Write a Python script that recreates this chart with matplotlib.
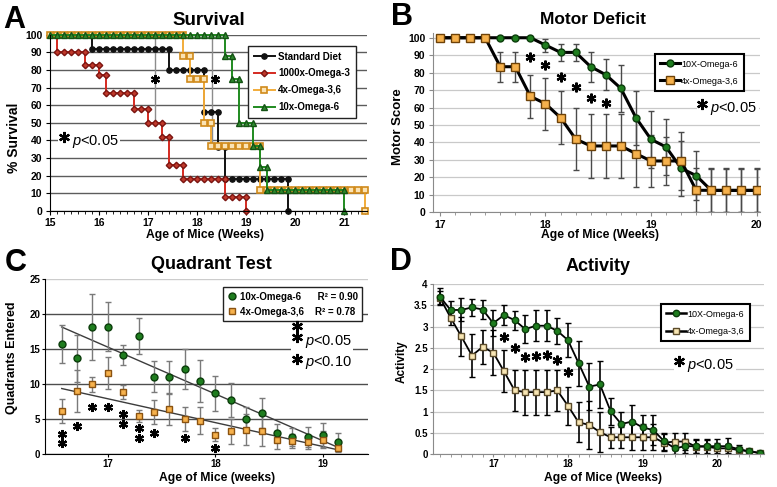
import matplotlib
matplotlib.use('Agg')
import matplotlib.pyplot as plt
import numpy as np
from matplotlib.ticker import MultipleLocator
from matplotlib.lines import Line2D

plt.rcParams['font.family'] = ['Liberation Sans', 'DejaVu Sans']
plt.rcParams['mathtext.fontset'] = 'custom'
plt.rcParams['mathtext.rm'] = 'Liberation Sans'
plt.rcParams['mathtext.it'] = 'Liberation Sans:italic'
plt.rcParams['mathtext.bf'] = 'Liberation Sans:bold'

W, H = 777, 487

# ---------------- A: survival (age in days, % alive)
std_day = [105, 106, 107, 108, 109, 110, 111,
           111, 112, 113, 114, 115, 116, 117, 118, 119, 120, 121, 122,
           122, 123, 124, 125, 126, 127,
           127, 128, 129,
           129, 130,
           130, 131, 132, 133, 134, 135, 136, 137, 138, 139,
           139]
std_surv = [100, 100, 100, 100, 100, 100, 100,
            92, 92, 92, 92, 92, 92, 92, 92, 92, 92, 92, 92,
            80, 80, 80, 80, 80, 80,
            56, 56, 56,
            36, 36,
            18, 18, 18, 18, 18, 18, 18, 18, 18, 18,
            0]

o3_day = [105, 106,
          106, 107, 108, 109, 110,
          110, 111, 112,
          112, 113,
          113, 114, 115, 116, 117,
          117, 118, 119,
          119, 120, 121,
          121, 122,
          122, 123, 124,
          124, 125, 126, 127, 128, 129, 130,
          130, 131, 132, 133,
          133]
o3_surv = [100, 100,
           90, 90, 90, 90, 90,
           83, 83, 83,
           77, 77,
           67, 67, 67, 67, 67,
           58, 58, 58,
           50, 50, 50,
           42, 42,
           26, 26, 26,
           18, 18, 18, 18, 18, 18, 18,
           8, 8, 8, 8,
           0]

o36_day = [105, 106, 107, 108, 109, 110, 111, 112, 113, 114, 115, 116, 117, 118,
           119, 120, 121, 122, 123, 124,
           124, 125,
           125, 126, 127,
           127, 128,
           128, 129, 130, 131, 132, 133, 134, 135,
           135, 136, 137, 138, 139, 140, 141, 142, 143, 144, 145, 146, 147, 148,
           149, 150,
           150]
o36_surv = [100, 100, 100, 100, 100, 100, 100, 100, 100, 100, 100, 100, 100, 100,
            100, 100, 100, 100, 100, 100,
            88, 88,
            75, 75, 75,
            50, 50,
            37, 37, 37, 37, 37, 37, 37, 37,
            12, 12, 12, 12, 12, 12, 12, 12, 12, 12, 12, 12, 12, 12,
            12, 12,
            0]

o6_day = [105, 106, 107, 108, 109, 110, 111, 112, 113, 114, 115, 116, 117, 118,
          119, 120, 121, 122, 123, 124, 125, 126, 127, 128, 129, 130,
          130, 131,
          131, 132,
          132, 133, 134,
          134, 135,
          135, 136,
          136, 137, 138, 139, 140, 141, 142, 143, 144, 145, 146, 147,
          147]
o6_surv = [100, 100, 100, 100, 100, 100, 100, 100, 100, 100, 100, 100, 100, 100,
           100, 100, 100, 100, 100, 100, 100, 100, 100, 100, 100, 100,
           88, 88,
           75, 75,
           50, 50, 50,
           37, 37,
           25, 25,
           12, 12, 12, 12, 12, 12, 12, 12, 12, 12, 12, 12,
           0]

a_sig_x = [17.13, 18.30]
a_sig_low = [50, 38]
a_star_x = [17.13, 18.36]
a_star_y = [75, 75]

# ---------------- B: motor score
b_day = list(range(119, 141))
b_o6 = [100, 100, 100, 100, 100, 100, 100, 95.8, 91.6, 91.6, 83.4, 78.8,
        71, 54.2, 41.8, 37.4, 25.2, 21, 12.5, 12.5, 12.5, 12.5]
b_o6_err = [0, 0, 0, 0, 0, 0, 0, 3.7, 5, 5, 8.7, 9,
            13.3, 15.5, 16.5, 16, 15.8, 14, 12.5, 12.5, 12.5, 12.5]
b_o36 = [100, 100, 100, 100, 83.4, 83.4, 66.4, 62.2, 54.2, 42, 38, 38,
         38, 33.6, 29.4, 29.4, 29.4, 12.6, 12.6, 12.6, 12.6, 12.6]
b_o36_err = [0, 0, 0, 0, 8.7, 8.7, 12.4, 15, 15.3, 17.7, 18.3, 18.3,
             18.3, 19, 15, 14, 16.5, 12.5, 12.5, 12.5, 12.5, 12.5]
b_star_day = [125, 126, 127, 128, 129, 130]
b_star_y = [89, 84.3, 77.6, 71.9, 65.3, 62.4]

# ---------------- C: quadrants entered
c_day = list(range(116, 135))
c_o6 = [15.8, 13.7, 18.2, 18.2, 14.2, 16.9, 11.1, 11.0, 12.2, 10.5,
        8.7, 7.8, 5.1, 5.9, 3.0, 2.5, 2.5, 2.8, 1.8]
c_o6_err = [2.7, 3.4, 4.7, 3.5, 1.4, 2.6, 2.2, 2.4, 2.8, 3.0,
            2.5, 2.4, 1.7, 2.1, 1.3, 1.3, 1.4, 1.7, 1.3]
c_o36 = [6.2, 9.0, 10.0, 11.6, 8.9, 5.5, 6.0, 6.5, 5.0, 4.8,
         2.8, 3.3, 3.5, 3.4, 2.1, 1.9, 1.7, 2.1, 0.9]
c_o36_err = [1.7, 3.0, 1.1, 2.3, 1.0, 0.9, 1.7, 2.3, 1.7, 1.9,
             0.9, 1.8, 2.2, 2.2, 1.3, 1.0, 1.0, 1.2, 0.6]
c_star_day = [116, 116, 117, 118, 119, 120, 120, 121, 121, 122, 124, 126]
c_star_y = [2.9, 1.6, 4.0, 6.7, 6.8, 5.7, 4.3, 3.7, 2.3, 3.0, 2.4, 0.9]

# ---------------- D: activity
d_day = list(range(114, 145))
d_o6 = [3.70, 3.39, 3.39, 3.45, 3.40, 3.08, 3.27, 3.15, 2.94, 3.02, 3.02,
        2.90, 2.68, 2.14, 1.59, 1.64, 1.01, 0.71, 0.77, 0.63, 0.57, 0.31,
        0.14, 0.19, 0.19, 0.19, 0.19, 0.19, 0.12, 0.07, 0.03]
d_o6_err = [0.2, 0.2, 0.27, 0.2, 0.22, 0.3, 0.23, 0.22, 0.33, 0.37, 0.37,
            0.31, 0.4, 0.53, 0.55, 0.55, 0.32, 0.28, 0.39, 0.3, 0.35, 0.2,
            0.14, 0.16, 0.17, 0.18, 0.18, 0.19, 0.1, 0.05, 0.03]
d_o36 = [3.68, 3.21, 2.77, 2.32, 2.52, 2.39, 1.95, 1.50, 1.46, 1.46, 1.46,
         1.50, 1.14, 0.75, 0.69, 0.52, 0.40, 0.40, 0.40, 0.40, 0.40, 0.27,
         0.30, 0.30, 0.18, 0.18, 0.14, 0.14, 0.10, 0.07, 0.03]
d_o36_err = [0.15, 0.17, 0.45, 0.5, 0.41, 0.53, 0.49, 0.49, 0.53, 0.53, 0.53,
             0.49, 0.45, 0.47, 0.57, 0.47, 0.25, 0.25, 0.3, 0.3, 0.3, 0.2,
             0.2, 0.2, 0.15, 0.15, 0.12, 0.1, 0.08, 0.05, 0.03]
d_star_day = [120, 121, 122, 123, 124, 125, 126]
d_star_y = [2.76, 2.49, 2.29, 2.31, 2.33, 2.21, 1.94]

GREEN = '#1e7d1e'
DKGREEN = '#0b3d0b'
ORANGE = '#f6b14c'
STAR = (6, 2, 0)


def wk(days):
    return np.array(days) / 7.0


def rect(l, t, r, b):
    return [l / W, 1 - b / H, (r - l) / W, (b - t) / H]


fig = plt.figure(figsize=(W / 100, H / 100), dpi=100)


def ftext(x, y, s, **kw):
    fig.text(x / W, 1 - y / H, s, **kw)


def style_axis(ax, spine_color, size, pad=2.5, length=3):
    for s in ['top', 'right']:
        ax.spines[s].set_visible(False)
    for s in ['left', 'bottom']:
        ax.spines[s].set_color(spine_color)
    ax.tick_params(labelsize=size, length=length, pad=pad, color=spine_color)
    ax.tick_params(which='minor', length=2, color=spine_color)
    for lbl in ax.get_xticklabels() + ax.get_yticklabels():
        lbl.set_fontweight('bold')
    ax.set_axisbelow(True)


def p_key(ax, x, y, s, dy):
    ax.text(x, y, '   $p$' + s, fontsize=10.5, va='center', ha='left', zorder=6,
            bbox=dict(facecolor='white', edgecolor='none', pad=1))
    ax.plot([x + 0.035 * (ax.get_xlim()[1] - ax.get_xlim()[0]) / 3], [y + dy], ls='none',
            marker=STAR, ms=8, mew=1.6, color='k', zorder=8)


# ---------- panel A
axA = fig.add_axes(rect(50, 34.8, 367, 210.7))
axA.set_xlim(15, 21.46)
axA.set_ylim(0, 100)
axA.set_yticks(range(0, 101, 10))
axA.set_xticks(range(15, 22))
axA.xaxis.set_minor_locator(MultipleLocator(1 / 7))
axA.yaxis.grid(True, color='#5c5c5c', lw=1.0)
style_axis(axA, 'black', 7.5)
axA.vlines(a_sig_x, a_sig_low, 100, color='#8c8c8c', lw=1.0)
axA.plot(a_star_x, a_star_y, ls='none', marker=STAR, ms=6.5, mew=1.5, color='k')
hA = []
hA += axA.plot(wk(std_day), std_surv, color='#111111', lw=1.4, marker='o', ms=3.8,
               mfc='#111111', mec='#111111', clip_on=False, label='Standard Diet')
hA += axA.plot(wk(o3_day), o3_surv, color='#d42a20', lw=1.4, marker='D', ms=3.3,
               mfc='#c0392b', mec='#7a1410', clip_on=False, label='1000x-Omega-3')
hA += axA.plot(wk(o36_day), o36_surv, color='#f2ac3a', lw=1.4, marker='s', ms=3.8,
               mfc='#fbe3b4', mec='#d08a1a', mew=1.2, clip_on=False, label='4x-Omega-3,6')
hA += axA.plot(wk(o6_day), o6_surv, color='#1f8a1f', lw=1.4, marker='^', ms=4.1,
               mfc='#2d8a2d', mec='#145214', clip_on=False, label='10x-Omega-6')
legA = axA.legend(handles=hA, loc='upper right', bbox_to_anchor=(0.98, 0.965),
                  prop={'weight': 'bold', 'size': 7}, fancybox=False, framealpha=1,
                  edgecolor='#222222', handlelength=2.2, borderpad=0.6,
                  labelspacing=0.7, handletextpad=0.3)
legA.get_frame().set_linewidth(1.0)
p_key(axA, 15.2, 39.5, '<0.05', 2.5)

# ---------- panel B
axB = fig.add_axes(rect(433, 32.5, 760, 212.3))
axB.set_xlim(16.934, 20.033)
axB.set_ylim(0, 103)
axB.set_yticks(range(0, 101, 10))
axB.set_xticks(range(17, 21))
axB.xaxis.set_minor_locator(MultipleLocator(1 / 7))
axB.yaxis.grid(True, color='#c9c9c9', lw=0.9)
style_axis(axB, '#8a8a8a', 7.5)
axB.errorbar(wk(b_day), b_o6, yerr=b_o6_err, color='black', lw=2.2, marker='o', ms=5,
             mfc=GREEN, mec=DKGREEN, ecolor='#4a4a4a', elinewidth=1, capsize=2.5,
             capthick=1)
axB.errorbar(wk(b_day), b_o36, yerr=b_o36_err, color='black', lw=2.2, marker='s', ms=5.3,
             mfc=ORANGE, mec='#6e4208', ecolor='#4a4a4a', elinewidth=1, capsize=2.5,
             capthick=1)
axB.plot(wk(b_star_day), b_star_y, ls='none', marker=STAR, ms=7, mew=1.6, color='k')
hB = [Line2D([], [], color='black', lw=2.2, marker='o', ms=5, mfc=GREEN, mec=DKGREEN),
      Line2D([], [], color='black', lw=2.2, marker='s', ms=5.3, mfc=ORANGE, mec='#6e4208')]
legB = axB.legend(hB, ['10X-Omega-6', '4x-Omega-3,6'], loc='upper right',
                  bbox_to_anchor=(0.965, 0.905), fontsize=6.5, fancybox=False,
                  framealpha=1, edgecolor='black', handlelength=2.2, borderpad=0.6,
                  labelspacing=0.9, handletextpad=0.1)
legB.get_frame().set_linewidth(1.5)
p_key(axB, 19.45, 59.5, '<0.05', 2.5)

# ---------- panel C
axC = fig.add_axes(rect(45, 279.3, 368.3, 454.3))
axC.set_xlim(16.416, 19.421)
axC.set_ylim(0, 25)
axC.set_yticks(range(0, 26, 5))
axC.set_xticks(range(17, 20))
axC.yaxis.grid(True, color='#4d4d4d', lw=1.0)
axC.get_ygridlines()[-1].set_color('#cccccc')
style_axis(axC, 'black', 7, pad=1, length=2.5)
cx = wk(c_day)
for vals in [c_o6, c_o36]:
    fit = np.polyfit(cx, vals, 1)
    ends = cx[[0, -1]]
    axC.plot(ends, np.polyval(fit, ends), color='#3c3c3c', lw=1.0, zorder=2)
axC.errorbar(cx, c_o6, yerr=c_o6_err, ls='none', marker='o', ms=5, mfc=GREEN,
             mec=DKGREEN, ecolor='#7a7a7a', elinewidth=1, capsize=2, capthick=1, zorder=3)
axC.errorbar(cx, c_o36, yerr=c_o36_err, ls='none', marker='s', ms=5, mfc=ORANGE,
             mec='#8a5210', ecolor='#7a7a7a', elinewidth=1, capsize=2, capthick=1, zorder=3)
axC.plot(wk(c_star_day), c_star_y, ls='none', marker=STAR, ms=6.5, mew=1.6, color='k')
hC = [Line2D([], [], ls='none', marker='o', ms=5, mfc=GREEN, mec=DKGREEN),
      Line2D([], [], ls='none', marker='s', ms=5, mfc=ORANGE, mec='#8a5210')]
legC = axC.legend(hC, ['10x-Omega-6      R\u00b2 = 0.90', '4x-Omega-3,6    R\u00b2 = 0.78'],
                  loc='upper right', bbox_to_anchor=(0.997, 0.985),
                  prop={'weight': 'bold', 'size': 7}, fancybox=False, framealpha=1,
                  edgecolor='#222222', handlelength=0.8, borderpad=0.5,
                  labelspacing=0.5, handletextpad=0.4)
legC.get_frame().set_linewidth(1.0)
axC.text(18.72, 16.1, '   $p$<0.05', fontsize=10.5, va='center', ha='left', zorder=6,
         bbox=dict(facecolor='white', edgecolor='none', pad=1))
axC.plot([18.755, 18.755], [18.3, 16.8], ls='none', marker=STAR, ms=8, mew=1.6,
         color='k', zorder=8)
p_key(axC, 18.72, 13.1, '<0.10', 0.55)

# ---------- panel D
axD = fig.add_axes(rect(432.7, 284, 764, 454.3))
axD.set_xlim(16.189, 20.625)
axD.set_ylim(0, 4)
dticks = [0, 0.5, 1, 1.5, 2, 2.5, 3, 3.5, 4]
axD.set_yticks(dticks)
axD.set_yticklabels(['%g' % v for v in dticks])
axD.set_xticks(range(17, 21))
axD.xaxis.set_minor_locator(MultipleLocator(1 / 7))
axD.yaxis.grid(True, color='#c9c9c9', lw=0.9)
style_axis(axD, '#8a8a8a', 7, pad=1, length=2.5)
axD.errorbar(wk(d_day), d_o36, yerr=d_o36_err, color='black', lw=1.3, marker='s', ms=4.6,
             mfc='#f8e6b4', mec='#5a4a2a', ecolor='black', elinewidth=1.2, capsize=2,
             capthick=1)
axD.errorbar(wk(d_day), d_o6, yerr=d_o6_err, color='black', lw=1.3, marker='o', ms=4.6,
             mfc=GREEN, mec=DKGREEN, ecolor='black', elinewidth=1.2, capsize=2,
             capthick=1)
axD.plot(wk(d_star_day), d_star_y, ls='none', marker=STAR, ms=7, mew=1.6, color='k')
hD = [Line2D([], [], color='black', lw=1.8, marker='o', ms=4.6, mfc=GREEN, mec=DKGREEN),
      Line2D([], [], color='black', lw=1.8, marker='s', ms=4.6, mfc='#f8e6b4', mec='#5a4a2a')]
legD = axD.legend(hD, ['10X-Omega-6', '4x-Omega-3,6'], loc='upper right',
                  bbox_to_anchor=(0.972, 0.908), fontsize=6.5, fancybox=False,
                  framealpha=1, edgecolor='black', handlelength=2.2, borderpad=0.6,
                  labelspacing=0.9, handletextpad=0.1)
legD.get_frame().set_linewidth(1.5)
p_key(axD, 19.44, 2.08, '<0.05', 0.1)

# ---------- titles, labels, panel letters
for x, y, s, fs in [(209, 25, 'Survival', 13.5), (592.7, 24, 'Motor Deficit', 12.5),
                    (211.7, 269, 'Quadrant Test', 13), (598.3, 271, 'Activity', 13)]:
    ftext(x, y, s, fontsize=fs, fontweight='bold', ha='center', va='baseline')
for x, y, s in [(205, 238, 'Age of Mice (Weeks)'), (600, 238, 'Age of Mice (Weeks)'),
                (216.7, 481, 'Age of Mice (weeks)'), (603, 481, 'Age of Mice (Weeks)')]:
    ftext(x, y, s, fontsize=8.7, fontweight='bold', ha='center', va='baseline')
for x, y, s, fs in [(14, 138, '% Survival', 10), (398, 127, 'Motor Score', 9.5),
                    (12.5, 357.5, 'Quadrants Entered', 9), (402, 361.7, 'Activity', 8.5)]:
    ftext(x, y, s, fontsize=fs, fontweight='bold', ha='center', va='center', rotation=90)
for x, y, s in [(3, 28.3, 'A'), (391, 25, 'B'), (5, 271, 'C'), (390, 270, 'D')]:
    ftext(x, y, s, fontsize=22, fontweight='bold', ha='left', va='baseline')

fig.savefig('out.png', dpi=100)
